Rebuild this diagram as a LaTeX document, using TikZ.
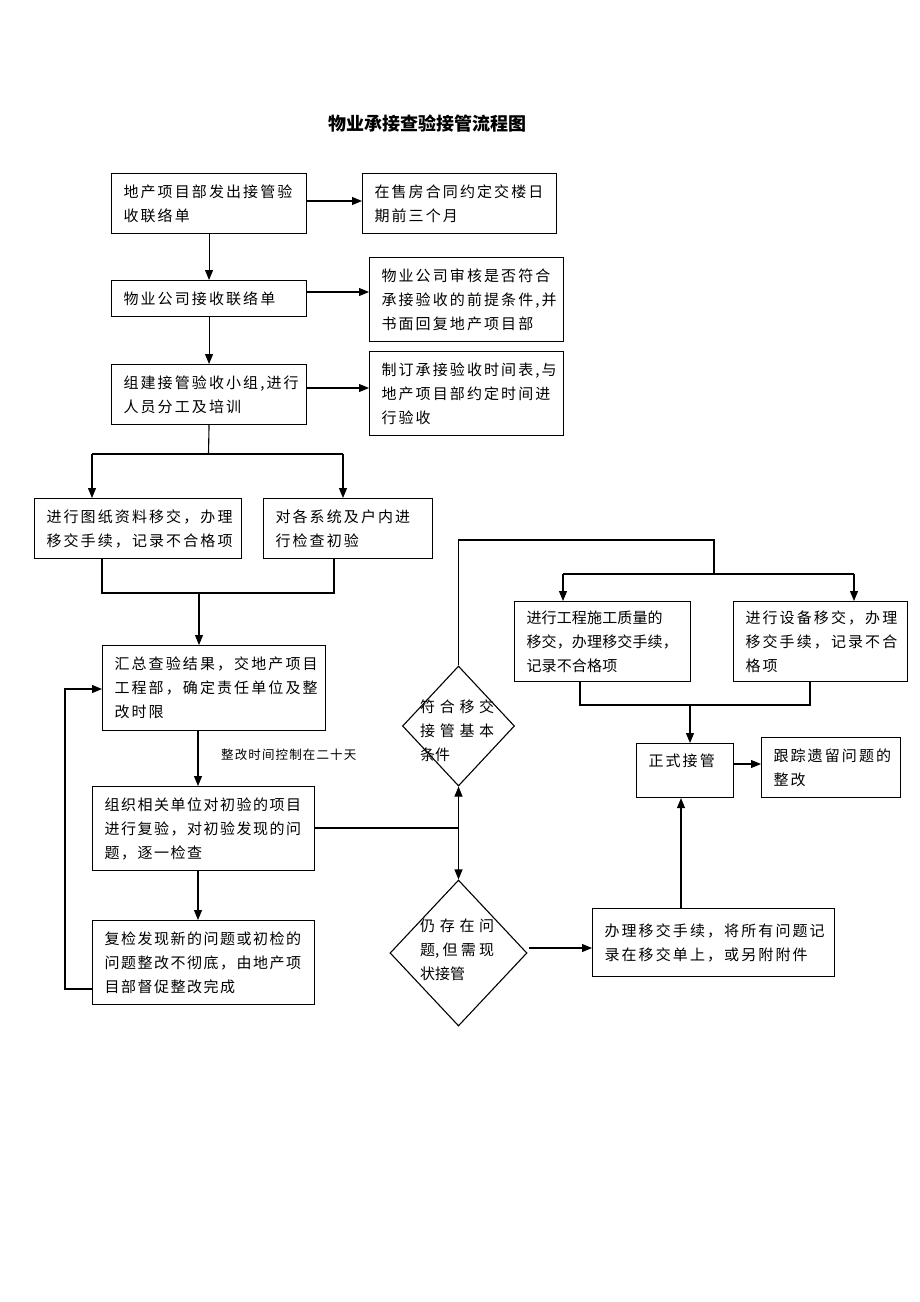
\documentclass[tikz,border=0pt]{standalone}
\usepackage{fontspec}
\setmainfont{Noto Sans CJK SC}
\usetikzlibrary{arrows.meta,shapes.geometric}
\tikzset{
  box/.style={draw, line width=1.1pt, rectangle, anchor=north west, align=left,
    inner xsep=12pt, inner ysep=0pt,
    font=\fontsize{15}{24}\selectfont\addfontfeature{LetterSpace=14}},
  dia/.style={draw, line width=1.1pt, diamond, inner sep=0pt},
  dtext/.style={anchor=west, align=left, inner sep=0pt,
    font=\fontsize{15}{24}\selectfont},
  arr/.style={line width=1.1pt, -{Triangle[length=10pt,width=8pt]}},
  ln/.style={line width=1.1pt},
}
\begin{document}
\begin{tikzpicture}[x=1pt,y=-1pt]
\useasboundingbox[fill=white] (0,0) rectangle (920,1302);
% title
\node[font=\fontsize{18}{20}\selectfont\bfseries] (title) at (427,124) {物业承接查验接管流程图};
% boxes
\node[box, minimum width=195pt, minimum height=60pt, text width=171pt] (B1) at (111,173) {地产项目部发出接管验\\收联络单};
\node[box, minimum width=194pt, minimum height=60pt, text width=170pt] (B1r) at (362,173) {在售房合同约定交楼日\\期前三个月};
\node[box, minimum width=195pt, minimum height=36pt, text width=171pt] (B2) at (111,280) {物业公司接收联络单};
\node[box, minimum width=194pt, minimum height=84pt, text width=170pt] (B2r) at (369,257) {物业公司审核是否符合\\承接验收的前提条件,并\\书面回复地产项目部};
\node[box, minimum width=195pt, minimum height=60pt, text width=171pt] (B3) at (111,364) {组建接管验收小组,进行\\人员分工及培训};
\node[box, minimum width=194pt, minimum height=84pt, text width=170pt] (B3r) at (369,351) {制订承接验收时间表,与\\地产项目部约定时间进\\行验收};
\node[box, minimum width=207pt, minimum height=60pt, text width=183pt] (B4L) at (34,498) {进行图纸资料移交，办理\\移交手续，记录不合格项};
\node[box, minimum width=169pt, minimum height=60pt, text width=145pt] (B4R) at (263,498) {对各系统及户内进\\行检查初验};
\node[box, minimum width=223pt, minimum height=85pt, text width=199pt] (B5) at (102,645) {汇总查验结果，交地产项目\\工程部，确定责任单位及整\\改时限};
\node[box, minimum width=222pt, minimum height=84pt, text width=198pt, font=\fontsize{15}{24}\selectfont\addfontfeature{LetterSpace=10}] (B6) at (92,786) {组织相关单位对初验的项目\\进行复验，对初验发现的问\\题，逐一检查};
\node[box, minimum width=222pt, minimum height=84pt, text width=198pt, font=\fontsize{15}{24}\selectfont\addfontfeature{LetterSpace=10}] (B7) at (92,920) {复检发现新的问题或初检的\\问题整改不彻底，由地产项\\目部督促整改完成};
\node[box, minimum width=176pt, minimum height=80pt, text width=152pt, font=\fontsize{15}{24}\selectfont\addfontfeature{LetterSpace=1}] (B8) at (514,601) {进行工程施工质量的\\移交，办理移交手续，\\记录不合格项};
\node[box, minimum width=174pt, minimum height=80pt, text width=150pt] (B9) at (733,601) {进行设备移交，办理\\移交手续，记录不合\\格项};
\node[box, minimum width=97pt, minimum height=54pt, text width=73pt] (B10) at (636,743) {正式接管\\[-4pt]\mbox{}};
\node[box, minimum width=139pt, minimum height=60pt, text width=115pt] (B11) at (761,737) {跟踪遗留问题的\\整改};
\node[box, minimum width=242pt, minimum height=68pt, text width=218pt] (B12) at (592,908) {办理移交手续，将所有问题记\\录在移交单上，或另附附件};
% diamonds
\node[dia, minimum width=112pt, minimum height=120pt] (D1) at (458.5,726) {};
\node[dtext] (D1t) at (420,731) {\makebox[74pt][s]{符\hfil 合\hfil 移\hfil 交}\\\makebox[74pt][s]{接\hfil 管\hfil 基\hfil 本}\\条件};
\node[dia, minimum width=137pt, minimum height=146pt] (D2) at (458.5,953) {};
\node[dtext] (D2t) at (420,950) {\makebox[74pt][s]{仍\hfil 存\hfil 在\hfil 问}\\\makebox[74pt][s]{题,\hfil 但\hfil 需\hfil 现}\\状接管};
% label
\node[anchor=west, inner sep=0pt, font=\fontsize{12.5}{14}\selectfont\addfontfeature{LetterSpace=9}] (lab) at (221,755) {整改时间控制在二十天};
% connectors top
\coordinate (h1) at (0,201);
\coordinate (h2) at (0,292);
\coordinate (h3) at (0,388);
\draw[arr] (B1.east |- h1) -- (B1r.west |- h1);
\draw[arr] (B2.east |- h2) -- (B2r.west |- h2);
\draw[arr] (B3.east |- h3) -- (B3r.west |- h3);
\draw[arr] (B1.south) -- (B2.north);
\draw[arr] (B2.south) -- (B3.north);
\coordinate (j3) at (208.5,454);
\coordinate (jl) at (92,454);
\coordinate (jr) at (343,454);
\draw[ln] (B3.south) -- (j3);
\draw[ln] (jl) -- (jr);
\draw[arr] (jl) -- (jl |- B4L.north);
\draw[arr] (jr) -- (jr |- B4R.north);
\coordinate (k1) at (102,593);
\coordinate (k2) at (334,593);
\coordinate (k3) at (199,593);
\draw[ln] (k1 |- B4L.south) -- (k1) -- (k2) -- (k2 |- B4R.south);
\draw[arr] (k3) -- (k3 |- B5.north);
\coordinate (m1) at (198,0);
\draw[arr] (B5.south -| m1) -- (B6.north -| m1);
\draw[arr] (B6.south -| m1) -- (B7.north -| m1);
% feedback loop
\coordinate (fb) at (65,989);
\coordinate (fb2) at (65,689);
\draw[arr] (B7.west |- fb) -- (fb) -- (fb2) -- (B5.west |- fb2);
% to diamonds
\coordinate (q) at (458.5,828);
\draw[ln] (B6.east |- q) -- (q);
\draw[arr] (q) -- (D1.south);
\draw[arr] (q) -- (D2.north);
% from D1 up and right
\coordinate (t1) at (458.5,540);
\coordinate (t2) at (714,540);
\coordinate (t3) at (714,574);
\coordinate (tl) at (563,574);
\coordinate (tr) at (854,574);
\draw[ln] (D1.north) -- (t1) -- (t2) -- (t3);
\draw[ln] (tl) -- (tr);
\draw[arr] (tl) -- (tl |- B8.north);
\draw[arr] (tr) -- (tr |- B9.north);
\coordinate (u1) at (580,705);
\coordinate (u2) at (810,705);
\coordinate (u3) at (690,705);
\draw[ln] (u1 |- B8.south) -- (u1) -- (u2) -- (u2 |- B9.south);
\draw[arr] (u3) -- (u3 |- B10.north);
\coordinate (h4) at (0,764);
\draw[arr] (B10.east |- h4) -- (B11.west |- h4);
\coordinate (v1) at (529,948);
\draw[arr] (v1) -- (B12.west |- v1);
\coordinate (w1) at (681,0);
\draw[arr] (B12.north -| w1) -- (B10.south -| w1);
\end{tikzpicture}
\end{document}
